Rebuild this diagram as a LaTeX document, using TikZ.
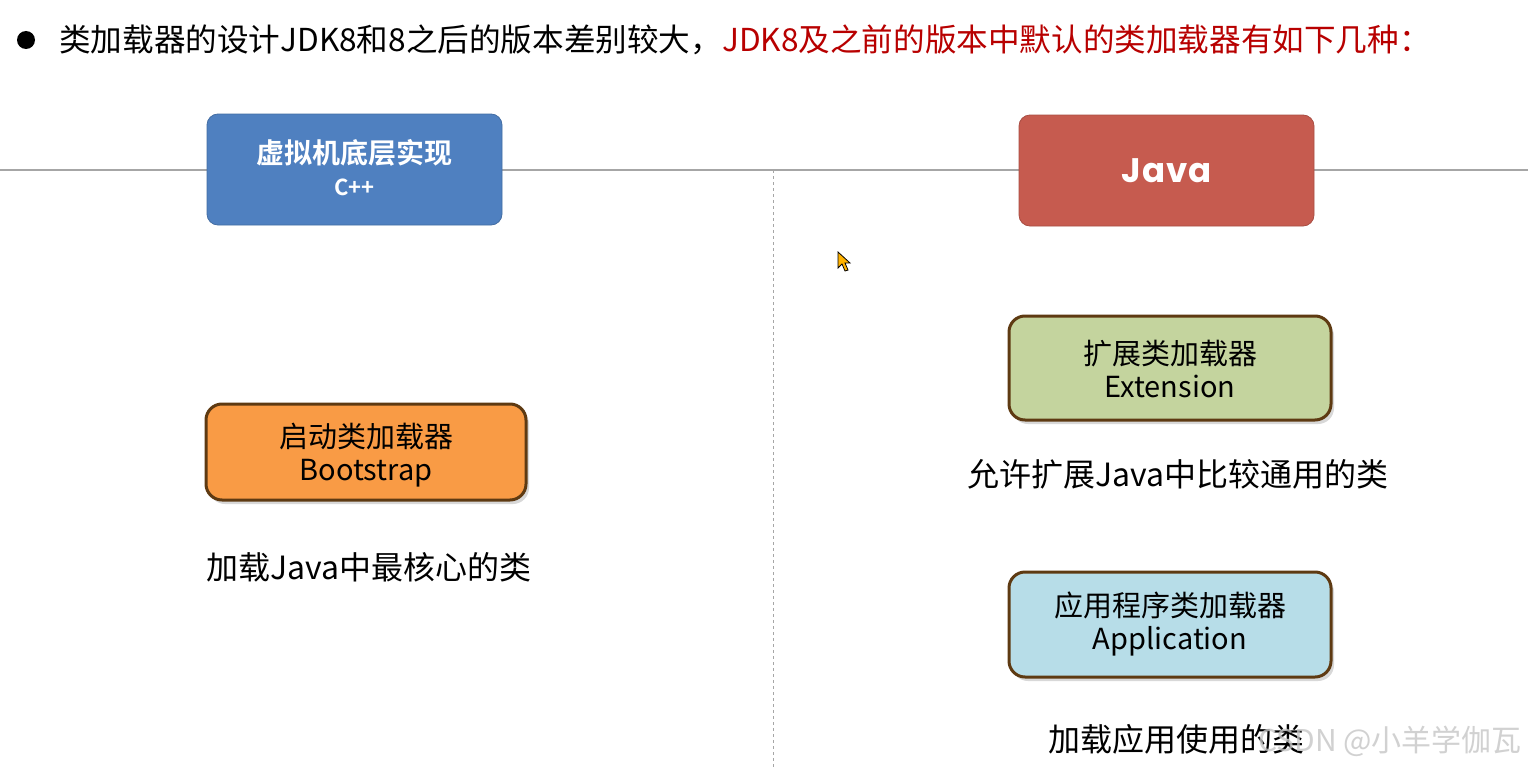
\documentclass[tikz,border=0pt]{standalone}
\usepackage{fontspec}
\setmainfont{Noto Sans CJK SC}
\newfontfamily\cjkbold{Noto Sans CJK SC Bold}
\newfontfamily\javafont{Poppins}[UprightFont=* Bold]
\usetikzlibrary{shadows}
\definecolor{boxblue}{HTML}{4F80C0}
\definecolor{boxred}{HTML}{C65B4F}
\definecolor{boxorange}{HTML}{F99B45}
\definecolor{boxgreen}{HTML}{C4D49E}
\definecolor{boxcyan}{HTML}{B7DDE8}
\definecolor{boxedge}{HTML}{5E3A12}
\definecolor{titlered}{HTML}{B80000}
\definecolor{linegray}{HTML}{A6A6A6}
\tikzset{
  headbox/.style={rounded corners=11pt, minimum width=295pt, minimum height=111pt, inner sep=0pt, text=white, align=center},
  loaderbox/.style={rounded corners=16pt, draw=boxedge, line width=3pt, inner sep=0pt,
    drop shadow={opacity=0.3, shadow xshift=3pt, shadow yshift=-4pt}},
  boxtext/.style={inner sep=0pt, align=center, font=\fontsize{29}{33}\selectfont},
  desc/.style={font=\fontsize{32}{38}\selectfont, inner sep=0pt},
  sepline/.style={draw=linegray, line width=1.2pt},
}
\begin{document}
\begin{tikzpicture}[x=1pt,y=-1pt]
\useasboundingbox (0,0) rectangle (1528,768);
\fill[white] (0,0) rectangle (1528,768);
% separators
\coordinate (hl) at (0,170);
\coordinate (hr) at (1528,170);
\coordinate (vt) at (773,170);
\coordinate (vb) at (773,768);
\draw[sepline] (hl) -- (hr);
\draw[draw=linegray, line width=1pt, dash pattern=on 3pt off 3pt] (vt) -- (vb);
% title
\fill (26,40) circle (9pt);
\node[anchor=west, inner sep=0pt, font=\fontsize{31.6}{36}\selectfont] (title) at (59,40)
  {类加载器的设计JDK8和8之后的版本差别较大，\textcolor{titlered}{JDK8及之前的版本中默认的类加载器有如下几种：}};
% header boxes
\node[headbox, fill=boxblue, draw=boxblue!85!black, line width=0.8pt] (vm) at (354.5,169.5) {};
\node[inner sep=0pt, text=white, font=\cjkbold\fontsize{28}{32}\selectfont] (vmt) at (354.5,153) {虚拟机底层实现};
\node[inner sep=0pt, text=white, font=\cjkbold\fontsize{22}{26}\selectfont] (vmc) at (354.5,187) {C++};
\node[headbox, fill=boxred, draw=boxred!85!black, line width=0.8pt, font=\javafont\fontsize{34}{40}\selectfont] (java) at (1166.5,170.5) {\addfontfeatures{LetterSpace=2}Java};
% loader boxes
\node[loaderbox, fill=boxorange, minimum width=320pt, minimum height=96pt] (boot) at (366,452) {};
\node[boxtext] (boott) at (366,455) {启动类加载器\\Bootstrap};
\node[loaderbox, fill=boxgreen, minimum width=322pt, minimum height=104pt] (ext) at (1170,368) {};
\node[boxtext] (extt) at (1170,368.5) {扩展类加载器\\Extension};
\node[loaderbox, fill=boxcyan, minimum width=322pt, minimum height=105pt] (app) at (1170,624.5) {};
\node[boxtext] (appt) at (1170,624) {应用程序类加载器\\Application};
% descriptions
\node[desc] (bootd) at (369,567) {加载Java中最核心的类};
\node[desc] (extd) at (1178,474) {允许扩展Java中比较通用的类};
\node[desc, anchor=west] (appd) at (1048,739) {加载应用使用的类};
% watermark
\node[anchor=east, inner sep=0pt, text=gray!45, opacity=0.8, font=\fontsize{30}{34}\selectfont] (wm) at (1522,741) {CSDN @小羊学伽瓦};
% cursor
\filldraw[fill=orange!60!yellow, draw=black, line width=0.8pt]
  (838,252) -- (838,268) -- (842,264) -- (845,271) -- (848,270) -- (845,263) -- (850,263) -- cycle;
\end{tikzpicture}
\end{document}
